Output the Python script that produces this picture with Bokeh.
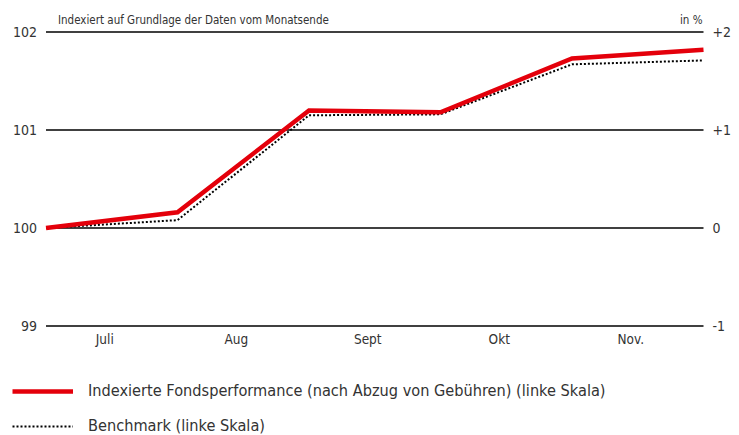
from bokeh.plotting import figure
from bokeh.models import (Range1d, Legend, LegendItem, ColumnDataSource)
from bokeh.core.properties import value
from bokeh.embed import file_html
from bokeh.resources import INLINE

# ---- data ----
month_end_index = [0, 1, 2, 3, 4, 5]          # Juni-Ende ... Nov.-Ende
month_labels = ["Juli", "Aug", "Sept", "Okt", "Nov."]
fund = [100.0, 100.16, 101.20, 101.18, 101.73, 101.82]
benchmark = [100.0, 100.08, 101.15, 101.16, 101.67, 101.71]
left_ticks = [99, 100, 101, 102]
left_labels = ["99", "100", "101", "102"]
right_ticks = [-1, 0, 1, 2]
right_labels = ["-1", "0", "+1", "+2"]
header_text = "Indexiert auf Grundlage der Daten vom Monatsende"
unit_text = "in %"
fund_label = "Indexierte Fondsperformance (nach Abzug von Gebühren) (linke Skala)"
bench_label = "Benchmark (linke Skala)"

# ---- layout constants (pixels) ----
W, H = 739, 435
PX_LEFT, PX_RIGHT = 45.5, 703.0       # x of first / last month end
PX_TOP_GRID, PX_PER_UNIT = 31.5, 98.0  # y of top gridline, px per index point
FONT = value("DejaVu Sans Condensed")
TXT = "#333333"

x_first, x_last = month_end_index[0], month_end_index[-1]
ppx = (PX_RIGHT - PX_LEFT) / (x_last - x_first)
x_start = x_first - PX_LEFT / ppx
x_end = x_start + W / ppx
y_top = max(left_ticks)
y_end = y_top + PX_TOP_GRID / PX_PER_UNIT
y_start = y_end - H / PX_PER_UNIT

p = figure(width=W, height=H, output_backend="svg", toolbar_location=None,
           x_range=Range1d(x_start, x_end), y_range=Range1d(y_start, y_end),
           x_axis_type=None, y_axis_type=None)
p.min_border_left = p.min_border_right = 0
p.min_border_top = p.min_border_bottom = 0
p.outline_line_color = None
p.xgrid.grid_line_color = None
p.ygrid.grid_line_color = None
p.extra_y_ranges = {"pct": Range1d(y_start - 100, y_end - 100)}

# gridlines
p.segment(x0=[x_first] * len(left_ticks), x1=[x_last] * len(left_ticks),
          y0=left_ticks, y1=left_ticks, line_color="black", line_width=1.3)

# left tick labels
p.text(x=[x_first] * len(left_ticks), y=left_ticks, text=left_labels,
       x_offset=-9, text_align="right", text_baseline="middle",
       text_font=FONT, text_font_size="14px", text_color=TXT)
# right tick labels
p.text(x=[x_last] * len(right_ticks), y=right_ticks, text=right_labels,
       y_range_name="pct", x_offset=9, text_align="left",
       text_baseline="middle",
       text_font=FONT, text_font_size="14px", text_color=TXT)
# month labels
centers = [i + 0.5 for i in month_end_index[:-1]]
p.text(x=centers, y=[min(left_ticks)] * len(centers), text=month_labels,
       x_offset=-7, y_offset=13, text_align="center", text_baseline="middle",
       text_font=FONT, text_font_size="13.5px", text_color=TXT)
# header texts
p.text(x=[x_first], y=[y_top], text=[header_text], x_offset=12, y_offset=-12,
       text_align="left", text_baseline="middle",
       text_font=FONT, text_font_size="11.5px", text_color=TXT)
p.text(x=[x_last], y=[y_top], text=[unit_text], x_offset=-1, y_offset=-12,
       text_align="right", text_baseline="middle",
       text_font=FONT, text_font_size="11.5px", text_color=TXT)

src = ColumnDataSource(dict(x=month_end_index, fund=fund, bench=benchmark))
r_bench = p.line("x", "bench", source=src, line_color="black", line_width=2,
                 line_dash="2 2")
r_fund = p.line("x", "fund", source=src, line_color="#e4000b", line_width=4.5,
                line_join="miter")

legend = Legend(items=[LegendItem(label=fund_label, renderers=[r_fund]),
                       LegendItem(label=bench_label, renderers=[r_bench])],
                location=(12, 0), orientation="vertical")
legend.border_line_color = None
legend.background_fill_alpha = 0
legend.label_text_font = "DejaVu Sans Condensed"
legend.label_text_font_size = "16.2px"
legend.label_text_color = TXT
legend.glyph_width = 61
legend.glyph_height = 16
legend.label_height = 16
legend.spacing = 16
legend.label_standoff = 15
legend.padding = 0
legend.margin = 0
p.add_layout(legend, "center")

open("out.html", "w").write(file_html(p, INLINE))
